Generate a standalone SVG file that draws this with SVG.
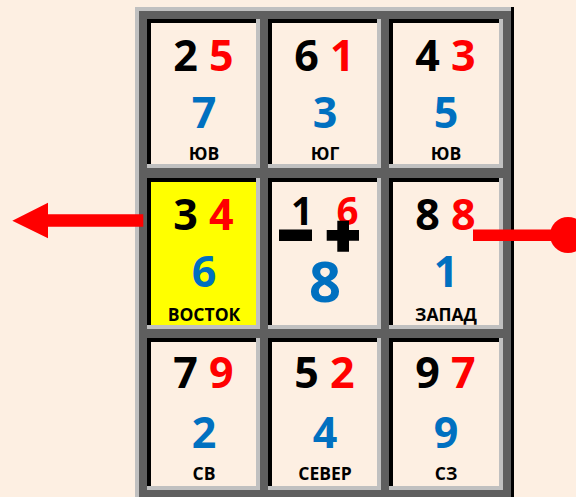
<svg xmlns="http://www.w3.org/2000/svg" width="576" height="497" viewBox="0 0 576 497">
<style>
.lt{fill:#C0C0C0}
.bk{fill:#000}
.in{fill:#FDEFE2}
.yl{fill:#FFFF00}
text{font-family:"Open Sans","Noto Sans","Liberation Sans",sans-serif;font-weight:bold;text-anchor:middle}
.top{font-size:43px}
.mid{font-size:43px;fill:#0070C0}
.lab{font-size:17.5px;fill:#000}
.k{fill:#000}
.r{fill:#FF0000}
</style>
<rect width="576" height="497" fill="#FDEFE2"/>
<g id="frame">
<rect x="135" y="7" width="379" height="495" fill="#000"/>
<rect x="135" y="7" width="376" height="495" fill="#C0C0C0"/>
<rect x="139" y="11" width="372" height="490" fill="#5F5F5F"/>
</g>
<g id="cell-se1">
<rect class="lt" x="147" y="19" width="113" height="149"/><rect class="bk" x="147" y="19" width="109" height="145"/><rect class="in" x="151" y="23" width="105" height="141"/>
<text class="top" x="203.5" y="70.5"><tspan class="k">2 </tspan><tspan class="r">5</tspan></text>
<text class="mid" x="204" y="128">7</text>
<text class="lab" x="204" y="160">ЮВ</text>
</g>
<g id="cell-south">
<rect class="lt" x="268" y="19" width="113" height="149"/><rect class="bk" x="268" y="19" width="109" height="145"/><rect class="in" x="272" y="23" width="105" height="141"/>
<text class="top" x="324.5" y="70.5"><tspan class="k">6 </tspan><tspan class="r">1</tspan></text>
<text class="mid" x="325" y="128">3</text>
<text class="lab" x="325" y="160">ЮГ</text>
</g>
<g id="cell-se2">
<rect class="lt" x="389" y="19" width="114" height="149"/><rect class="bk" x="389" y="19" width="110" height="145"/><rect class="in" x="393" y="23" width="106" height="141"/>
<text class="top" x="445.5" y="70.5"><tspan class="k">4 </tspan><tspan class="r">3</tspan></text>
<text class="mid" x="446" y="128">5</text>
<text class="lab" x="446" y="160">ЮВ</text>
</g>
<g id="cell-east">
<rect class="lt" x="147" y="178" width="113" height="151"/><rect class="bk" x="147" y="178" width="109" height="147"/><rect class="yl" x="151" y="182" width="105" height="143"/>
<text class="top" x="203.5" y="229.5"><tspan class="k">3 </tspan><tspan class="r">4</tspan></text>
<text class="mid" x="204" y="287">6</text>
<text class="lab" x="204" y="321">ВОСТОК</text>
</g>
<g id="cell-center">
<rect class="lt" x="268" y="178" width="113" height="151"/><rect class="bk" x="268" y="178" width="109" height="147"/><rect class="in" x="272" y="182" width="105" height="143"/>
<text style="font-size:38.5px" y="225"><tspan class="k" x="302">1</tspan><tspan class="r" x="347.5">6</tspan></text>
<rect x="279" y="229.5" width="33" height="11.5" fill="#000"/>
<path d="M337.3 220.7H349V230H359V240.7H349V251.7H337.3V240.7H326.7V230H337.3Z" fill="#000"/>
<text style="font-size:56px;fill:#0070C0" x="325" y="302">8</text>
</g>
<g id="cell-west">
<rect class="lt" x="389" y="178" width="114" height="151"/><rect class="bk" x="389" y="178" width="110" height="147"/><rect class="in" x="393" y="182" width="106" height="143"/>
<text class="top" x="445.5" y="229.5"><tspan class="k">8 </tspan><tspan class="r">8</tspan></text>
<text class="mid" x="446" y="287">1</text>
<text class="lab" x="446" y="321">ЗАПАД</text>
</g>
<g id="cell-ne">
<rect class="lt" x="147" y="338" width="113" height="152"/><rect class="bk" x="147" y="338" width="109" height="148"/><rect class="in" x="151" y="342" width="105" height="144"/>
<text class="top" x="203.5" y="388"><tspan class="k">7 </tspan><tspan class="r">9</tspan></text>
<text class="mid" x="204" y="447.5">2</text>
<text class="lab" x="204" y="480">СВ</text>
</g>
<g id="cell-north">
<rect class="lt" x="268" y="338" width="113" height="152"/><rect class="bk" x="268" y="338" width="109" height="148"/><rect class="in" x="272" y="342" width="105" height="144"/>
<text class="top" x="324.5" y="388"><tspan class="k">5 </tspan><tspan class="r">2</tspan></text>
<text class="mid" x="325" y="447.5">4</text>
<text class="lab" x="325" y="480">СЕВЕР</text>
</g>
<g id="cell-nw">
<rect class="lt" x="389" y="338" width="114" height="152"/><rect class="bk" x="389" y="338" width="110" height="148"/><rect class="in" x="393" y="342" width="106" height="144"/>
<text class="top" x="445.5" y="388"><tspan class="k">9 </tspan><tspan class="r">7</tspan></text>
<text class="mid" x="446" y="447.5">9</text>
<text class="lab" x="446" y="480">СЗ</text>
</g>
<g id="connectors">
<path d="M143.3 214.3H48V202.7L12.3 220.7L48 238.3V226.7H143.3Z" fill="#FF0000"/>
<rect x="473" y="229.5" width="95" height="11.5" fill="#FF0000"/>
<circle cx="568" cy="235" r="18" fill="#FF0000"/>
</g>
</svg>
